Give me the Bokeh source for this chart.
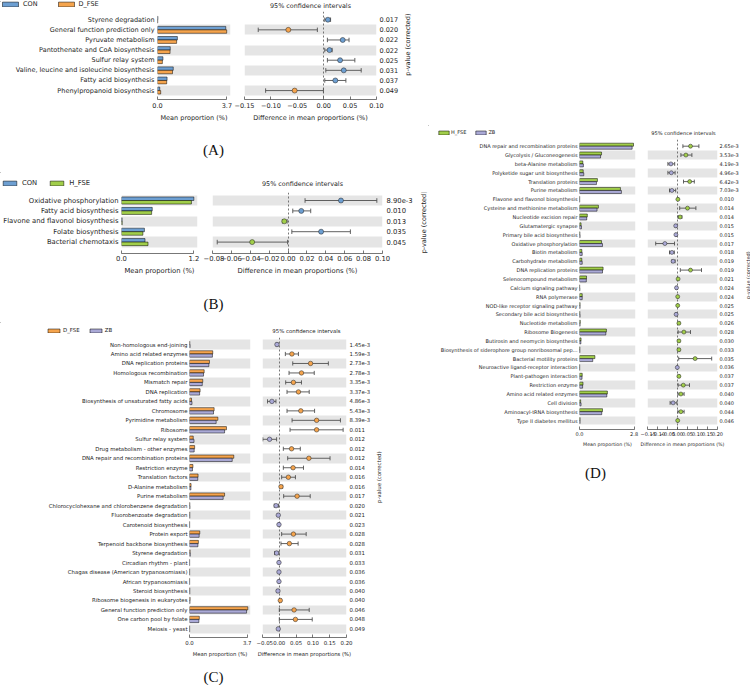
import numpy as np
from bokeh.plotting import figure
from bokeh.models import (ColumnDataSource, Range1d, FixedTicker, LinearAxis,
                          Legend, LegendItem, Spacer, PrintfTickFormatter)
from bokeh.core.properties import value
from bokeh.transform import dodge
from bokeh.layouts import row, column
from bokeh.embed import file_html
from bokeh.resources import INLINE

# ---------------- data: panel A (CON vs D_FSE) ----------------
cats_A = ["Styrene degradation", "General function prediction only", "Pyruvate metabolism",
          "Pantothenate and CoA biosynthesis", "Sulfur relay system",
          "Valine, leucine and isoleucine biosynthesis", "Fatty acid biosynthesis",
          "Phenylpropanoid biosynthesis"]
con_A = [0.02, 3.64, 1.06, 0.68, 0.29, 0.84, 0.51, 0.12]
dfse_A = [0.01, 3.69, 1.02, 0.67, 0.26, 0.80, 0.49, 0.17]
diff_A = [0.008, -0.067, 0.036, 0.011, 0.031, 0.038, 0.022, -0.055]
lo_A = [0.002, -0.124, 0.007, 0.002, 0.007, 0.004, 0.002, -0.110]
hi_A = [0.013, -0.012, 0.048, 0.016, 0.059, 0.071, 0.042, -0.0005]
pval_A = ["0.017", "0.020", "0.022", "0.022", "0.025", "0.031", "0.037", "0.049"]
ticks_ci_A = [-0.15, -0.10, -0.05, 0.00, 0.05, 0.10]
bar_max_A = 3.7

# ---------------- data: panel B (CON vs H_FSE) ----------------
cats_B = ["Oxidative phosphorylation", "Fatty acid biosynthesis",
          "Flavone and flavonol biosynthesis", "Folate biosynthesis", "Bacterial chemotaxis"]
con_B = [1.20, 0.51, 0.01, 0.38, 0.39]
hfse_B = [1.16, 0.50, 0.012, 0.355, 0.44]
diff_B = [0.056, 0.014, -0.004, 0.035, -0.038]
lo_B = [0.018, 0.005, -0.006, 0.004, -0.075]
hi_B = [0.094, 0.024, -0.001, 0.066, -0.0005]
pval_B = ["8.90e-3", "0.010", "0.013", "0.035", "0.045"]
ticks_ci_B = [-0.08, -0.06, -0.04, -0.02, 0.00, 0.02, 0.04, 0.06, 0.08, 0.10]
bar_max_B = 1.2

# ---------------- data: panel C (D_FSE vs ZB) ----------------
cats_C = ["Non-homologous end-joining", "Amino acid related enzymes", "DNA replication proteins",
          "Homologous recombination", "Mismatch repair", "DNA replication",
          "Biosynthesis of unsaturated fatty acids", "Chromosome", "Pyrimidine metabolism",
          "Ribosome", "Sulfur relay system", "Drug metabolism - other enzymes",
          "DNA repair and recombination proteins", "Restriction enzyme", "Translation factors",
          "D-Alanine metabolism", "Purine metabolism",
          "Chlorocyclohexane and chlorobenzene degradation", "Fluorobenzoate degradation",
          "Carotenoid biosynthesis", "Protein export", "Terpenoid backbone biosynthesis",
          "Styrene degradation", "Circadian rhythm - plant",
          "Chagas disease (American trypanosomiasis)", "African trypanosomiasis",
          "Steroid biosynthesis", "Ribosome biogenesis in eukaryotes",
          "General function prediction only", "One carbon pool by folate", "Meiosis - yeast"]
dfse_C = [0.02, 1.49, 1.28, 0.94, 0.85, 0.68, 0.13, 1.58, 1.82, 2.37, 0.24, 0.33, 2.84, 0.22,
          0.55, 0.10, 2.25, 0.02, 0.02, 0.01, 0.66, 0.57, 0.04, 0.01, 0.01, 0.01, 0.02, 0.04,
          3.74, 0.63, 0.01]
zb_C = [0.04, 1.47, 1.24, 0.90, 0.82, 0.65, 0.16, 1.54, 1.71, 2.25, 0.29, 0.30, 2.74, 0.19,
        0.53, 0.09, 2.16, 0.03, 0.02, 0.01, 0.62, 0.54, 0.05, 0.01, 0.01, 0.01, 0.02, 0.03,
        3.66, 0.60, 0.01]
diff_C = [-0.007, 0.0375, 0.093, 0.066, 0.042, 0.057, -0.022, 0.064, 0.111, 0.111, -0.029,
          0.0365, 0.088, 0.041, 0.027, 0.005, 0.053, -0.0096, -0.003, -0.001, 0.042, 0.030,
          -0.008, -0.001, -0.001, -0.001, -0.004, 0.003, 0.044, 0.048, -0.003]
lo_C = [-0.009, 0.018, 0.040, 0.029, 0.019, 0.023, -0.035, 0.023, 0.038, 0.032, -0.049, 0.012,
        0.025, 0.012, 0.007, 0.002, 0.013, -0.015, -0.005, -0.002, 0.007, 0.005, -0.014,
        -0.002, -0.002, -0.002, -0.007, 0.001, 0.000, 0.000, -0.005]
hi_C = [-0.004, 0.057, 0.146, 0.104, 0.066, 0.089, -0.010, 0.105, 0.182, 0.190, -0.008, 0.0625,
        0.151, 0.072, 0.048, 0.010, 0.092, -0.002, -0.001, -0.0003, 0.080, 0.056, -0.001,
        -0.0003, -0.0003, -0.0003, -0.001, 0.005, 0.089, 0.098, -0.001]
pval_C = ["1.45e-3", "1.59e-3", "2.73e-3", "2.78e-3", "3.35e-3", "3.37e-3", "4.86e-3",
          "5.43e-3", "8.39e-3", "0.011", "0.012", "0.012", "0.012", "0.014", "0.016", "0.016",
          "0.017", "0.020", "0.021", "0.023", "0.028", "0.028", "0.031", "0.033", "0.036",
          "0.036", "0.040", "0.040", "0.046", "0.048", "0.049"]
ticks_ci_C = [-0.05, 0.00, 0.05, 0.10, 0.15, 0.20]
bar_max_C = 3.7

# ---------------- data: panel D (H_FSE vs ZB) ----------------
cats_D = ["DNA repair and recombination proteins", "Glycolysis / Gluconeogenesis",
          "beta-Alanine metabolism", "Polyketide sugar unit biosynthesis", "Translation proteins",
          "Purine metabolism", "Flavone and flavonol biosynthesis",
          "Cysteine and methionine metabolism", "Nucleotide excision repair",
          "Glutamatergic synapse", "Primary bile acid biosynthesis", "Oxidative phosphorylation",
          "Biotin metabolism", "Carbohydrate metabolism", "DNA replication proteins",
          "Selenocompound metabolism", "Calcium signaling pathway", "RNA polymerase",
          "NOD-like receptor signaling pathway", "Secondary bile acid biosynthesis",
          "Nucleotide metabolism", "Ribosome Biogenesis", "Butirosin and neomycin biosynthesis",
          "Biosynthesis of siderophore group nonribosomal pep...", "Bacterial motility proteins",
          "Neuroactive ligand-receptor interaction", "Plant-pathogen interaction",
          "Restriction enzyme", "Amino acid related enzymes", "Cell division",
          "Aminoacyl-tRNA biosynthesis", "Type II diabetes mellitus"]
hfse_D = [2.77, 1.13, 0.17, 0.19, 0.92, 2.10, 0.01, 0.97, 0.40, 0.08, 0.02, 1.13, 0.12, 0.12,
          1.21, 0.36, 0.01, 0.14, 0.03, 0.02, 0.04, 1.38, 0.08, 0.02, 0.79, 0.01, 0.14, 0.18,
          1.43, 0.06, 1.18, 0.03]
zb_D = [2.70, 1.08, 0.20, 0.22, 0.87, 2.15, 0.01, 0.90, 0.37, 0.10, 0.03, 1.18, 0.14, 0.14,
        1.18, 0.35, 0.02, 0.14, 0.03, 0.03, 0.03, 1.35, 0.07, 0.02, 0.68, 0.01, 0.13, 0.16,
        1.40, 0.08, 1.14, 0.03]
diff_D = [0.065, 0.042, -0.033, -0.031, 0.061, -0.028, 0.002, 0.050, 0.013, -0.009, -0.008,
          -0.063, -0.028, -0.022, 0.065, 0.003, -0.005, 0.001, 0.001, -0.007, 0.007, 0.032,
          0.007, 0.007, 0.088, -0.001, 0.007, 0.029, 0.017, -0.022, 0.017, 0.001]
lo_D = [0.027, 0.017, -0.048, -0.048, 0.030, -0.040, 0.001, 0.011, 0.003, -0.011, -0.010,
        -0.109, -0.040, -0.028, 0.014, 0.001, -0.007, 0.000, 0.000, -0.009, 0.003, 0.003, 0.003,
        0.003, 0.006, -0.002, 0.003, 0.003, 0.002, -0.037, 0.002, 0.000]
hi_D = [0.107, 0.072, -0.014, -0.012, 0.084, -0.009, 0.003, 0.092, 0.022, -0.006, -0.005,
        -0.015, -0.016, -0.012, 0.120, 0.005, -0.003, 0.002, 0.002, -0.005, 0.011, 0.065, 0.011,
        0.011, 0.171, -0.0005, 0.011, 0.060, 0.033, -0.003, 0.033, 0.002]
pval_D = ["2.65e-3", "3.53e-3", "4.19e-3", "4.96e-3", "6.42e-3", "7.03e-3", "0.010", "0.014",
          "0.014", "0.015", "0.015", "0.017", "0.018", "0.019", "0.019", "0.021", "0.024",
          "0.024", "0.025", "0.025", "0.026", "0.028", "0.030", "0.033", "0.035", "0.036",
          "0.037", "0.037", "0.040", "0.040", "0.044", "0.046"]
ticks_ci_D = [-0.15, -0.10, -0.05, 0.00, 0.05, 0.10, 0.15, 0.20]
bar_max_D = 2.8

# ---------------- style ----------------
FONT = "DejaVu Sans"
SERIF = "Liberation Serif"
TXT = "#1e1e1e"
AXC = "#3c3c3c"
ERR = "#505050"
BAND = "#e5e5e5"
COLORS = {"CON": "#6d9fd2", "D_FSE": "#f5a44d", "H_FSE": "#a1ce4a", "ZB": "#aaa9d6"}
TITLE = "95% confidence intervals"
PLABEL = "p-value (corrected)"

# ---------------- layout (page pixels) ----------------
LA = dict(x0=0, colw=428, head_top=0, frame_top=11, frame_bottom=100, bb=24, foot_bottom=172,
          first_row=19.3, spacing=10.24,
          bar_left=157, bar_frame=73, bar_right=4, bar_tick_px=69.4,
          ci_left=10, ci_frame=133, ci_right=24,
          fs=6.5, title_fs=6.4, axl_fs=6.5, leg_x=0, leg_cy=4, gw=20, gh=6, leg_so=3, leg_sp=18,
          title_x=310, title_y=4, pl_x=407, pl_dy=-2, pl_fs=6.5, letter="(A)", letter_x=213,
          letter_y=149, lbl_so=3, pv_so=3, tick_so=3, lab_so=3, ps=5.0, cap=0.22)
LB = dict(x0=0, colw=428, head_top=172, frame_top=192, frame_bottom=253, bb=24, foot_bottom=322,
          first_row=200, spacing=10.4,
          bar_left=120, bar_frame=77, bar_right=6, bar_tick_px=73.3,
          ci_left=9, ci_frame=172, ci_right=31,
          fs=6.8, title_fs=6.4, axl_fs=6.8, leg_x=1, leg_cy=183, gw=17, gh=6, leg_so=4, leg_sp=11,
          title_x=302, title_y=183, pl_x=423, pl_dy=11, pl_fs=6.5, letter="(B)", letter_x=213,
          letter_y=303, lbl_so=3, pv_so=4, tick_so=2, lab_so=3, ps=5.0, cap=0.22)
LC = dict(x0=0, colw=428, head_top=322, frame_top=337, frame_bottom=637, bb=22, foot_bottom=685,
          first_row=344, spacing=9.48,
          bar_left=189, bar_frame=61, bar_right=6, bar_tick_px=57.7,
          ci_left=6, ci_frame=87, ci_right=24,
          fs=5.4, title_fs=5.4, axl_fs=5.3, leg_x=46, leg_cy=330, gw=15, gh=5, leg_so=2, leg_sp=8,
          title_x=306, title_y=330, pl_x=378, pl_dy=0, pl_fs=5.4, letter="(C)", letter_x=213,
          letter_y=676, lbl_so=2, pv_so=3, tick_so=3, lab_so=3, ps=4.5, cap=0.22)
LD = dict(x0=428, colw=322, head_top=125, frame_top=139, frame_bottom=429, bb=20, foot_bottom=485,
          first_row=145.7, spacing=8.85,
          bar_left=151, bar_frame=56, bar_right=5, bar_tick_px=54.6,
          ci_left=7, ci_frame=72, ci_right=22,
          fs=5.0, title_fs=5.1, axl_fs=4.75, leg_x=437, leg_cy=132.3, gw=13, gh=5, leg_so=1,
          leg_sp=8, title_x=683, title_y=132, pl_x=747, pl_dy=0, pl_fs=5.0, letter="(D)",
          letter_x=595, letter_y=472, lbl_so=2, pv_so=2, tick_so=2, lab_so=3, ps=4.0, cap=0.22)


def blank(width, height):
    f = figure(width=width, height=height, x_range=Range1d(0, width), y_range=Range1d(height, 0),
               x_axis_location=None, y_axis_location=None, output_backend="svg",
               toolbar_location=None, min_border=0, outline_line_color=None,
               background_fill_color="white", border_fill_color="white")
    f.grid.visible = False
    return f


def style_axis(ax, fs, afs):
    ax.axis_line_color = AXC
    ax.axis_line_width = 0.7
    ax.major_tick_line_color = AXC
    ax.major_tick_line_width = 0.7
    ax.minor_tick_line_color = None
    ax.major_tick_in = 3
    ax.major_tick_out = 0
    ax.major_label_text_font = FONT
    ax.major_label_text_font_size = f"{fs}px"
    ax.major_label_text_color = TXT
    ax.axis_label_text_font = FONT
    ax.axis_label_text_font_size = f"{afs}px"
    ax.axis_label_text_font_style = "normal"
    ax.axis_label_text_color = TXT


def build(cats, g1, v1, g2, v2, diff, lo, hi, pvals, bar_max, ci_ticks, L):
    n = len(cats)
    ypos = list(range(n - 1, -1, -1))
    s = L["spacing"]
    fh = L["frame_bottom"] - L["frame_top"]
    y_top = (n - 1) + (L["first_row"] - L["frame_top"]) / s
    y_bot = y_top - fh / s
    yr = Range1d(y_bot, y_top)
    H = fh + L["bb"]
    fs, afs = L["fs"], L["axl_fs"]
    c1, c2 = COLORS[g1], COLORS[g2]
    x0, W = L["x0"], L["colw"]

    src = ColumnDataSource(dict(y=ypos, v1=v1, v2=v2, diff=diff, lo=lo, hi=hi,
                                pc=[c1 if d >= 0 else c2 for d in diff]))
    shade = ColumnDataSource(dict(y0=[y - 0.5 for y in ypos if y % 2 == 0],
                                  y1=[y + 0.5 for y in ypos if y % 2 == 0]))

    # ---- header: legend + CI title ----
    hh_fig = L["frame_top"] - L["head_top"]
    head = blank(W, hh_fig)
    # legend proxies: one zero-length bar each, placed outside the visible range
    proxy = ColumnDataSource(dict(y=[-1000.0], v=[0.0]))
    d1 = head.hbar(y="y", right="v", left=0, height=0.3, source=proxy, fill_color=c1,
                   line_color="black", line_width=0.5)
    d2 = head.hbar(y="y", right="v", left=0, height=0.3, source=proxy, fill_color=c2,
                   line_color="black", line_width=0.5)
    th = max(L["gh"], 1.164 * fs)
    leg = Legend(items=[LegendItem(label=g1, renderers=[d1]), LegendItem(label=g2, renderers=[d2])],
                 orientation="horizontal",
                 location=(L["leg_x"] - x0, hh_fig - (L["leg_cy"] - L["head_top"]) - th / 2),
                 padding=0, margin=0, spacing=L["leg_sp"], glyph_width=L["gw"],
                 glyph_height=L["gh"], label_standoff=L["leg_so"], label_width=0,
                 label_height=L["gh"], label_text_font=FONT, label_text_font_size=f"{fs}px",
                 label_text_color=TXT, border_line_color=None, background_fill_alpha=0)
    head.add_layout(leg)
    head.text(x=[L["title_x"] - x0], y=[L["title_y"] - L["head_top"]], text=[TITLE],
              text_align="center", text_baseline="middle", text_font=value(FONT),
              text_font_size=value(f"{L['title_fs']}px"), text_color=TXT)

    # ---- mean proportion bars ----
    bw = L["bar_left"] + L["bar_frame"] + L["bar_right"]
    xe = bar_max * L["bar_frame"] / L["bar_tick_px"]
    fb = figure(width=bw, height=H, x_range=Range1d(0, xe), y_range=yr, title=None,
                output_backend="svg", toolbar_location=None,
                min_border_left=L["bar_left"], min_border_right=L["bar_right"],
                min_border_top=0, min_border_bottom=L["bb"],
                outline_line_color=None, background_fill_color="white",
                border_fill_color="white")
    fb.xgrid.visible = False
    fb.ygrid.visible = False
    fb.hstrip(y0="y0", y1="y1", source=shade, fill_color=BAND, line_color=None)
    fb.hbar(y=dodge("y", 0.17), left=0, right="v1", height=0.34, source=src,
            fill_color=c1, line_color="black", line_width=0.5)
    fb.hbar(y=dodge("y", -0.17), left=0, right="v2", height=0.34, source=src,
            fill_color=c2, line_color="black", line_width=0.5)

    ya = fb.yaxis[0]
    style_axis(ya, fs, afs)
    ya.ticker = FixedTicker(ticks=ypos)
    ya.major_label_overrides = {y: c for y, c in zip(ypos, cats)}
    ya.axis_line_color = None
    ya.major_tick_line_color = None
    ya.major_tick_in = 0
    ya.major_label_standoff = L["lbl_so"]

    xa = fb.xaxis[0]
    style_axis(xa, fs, afs)
    xa.ticker = FixedTicker(ticks=[0, bar_max])
    xa.bounds = (0, bar_max)
    xa.formatter = PrintfTickFormatter(format="%.1f")
    xa.major_label_standoff = L["tick_so"]
    xa.axis_label = "Mean proportion (%)"
    xa.axis_label_standoff = L["lab_so"]

    # ---- difference / confidence intervals ----
    cw = L["ci_left"] + L["ci_frame"] + L["ci_right"]
    fc = figure(width=cw, height=H, x_range=Range1d(ci_ticks[0], ci_ticks[-1]), y_range=yr,
                title=None, y_axis_location=None, output_backend="svg", toolbar_location=None,
                min_border_left=L["ci_left"], min_border_right=L["ci_right"],
                min_border_top=0, min_border_bottom=L["bb"],
                outline_line_color=None, background_fill_color="white",
                border_fill_color="white")
    fc.xgrid.visible = False
    fc.ygrid.visible = False
    fc.hstrip(y0="y0", y1="y1", source=shade, fill_color=BAND, line_color=None)
    fc.vspan(x=[0], line_color="#555555", line_dash="2 2", line_width=0.8)
    cap = L["cap"]
    fc.segment(x0="lo", x1="hi", y0="y", y1="y", source=src, line_color=ERR, line_width=0.9)
    fc.segment(x0="lo", x1="lo", y0=dodge("y", -cap), y1=dodge("y", cap), source=src,
               line_color=ERR, line_width=0.9)
    fc.segment(x0="hi", x1="hi", y0=dodge("y", -cap), y1=dodge("y", cap), source=src,
               line_color=ERR, line_width=0.9)
    fc.scatter(x="diff", y="y", size=L["ps"], source=src, fill_color="pc",
               line_color="#222222", line_width=0.5)

    ca = fc.xaxis[0]
    style_axis(ca, fs, afs)
    ca.ticker = FixedTicker(ticks=ci_ticks)
    ca.major_label_overrides = {t: f"{t:.2f}".replace("-", "\u2212") for t in ci_ticks}
    ca.major_label_standoff = L["tick_so"]
    ca.axis_label = "Difference in mean proportions (%)"
    ca.axis_label_standoff = L["lab_so"]

    ra = LinearAxis(ticker=FixedTicker(ticks=ypos),
                    major_label_overrides={y: p for y, p in zip(ypos, pvals)})
    style_axis(ra, fs, afs)
    ra.axis_line_color = None
    ra.major_tick_line_color = None
    ra.major_tick_in = 0
    ra.major_label_standoff = L["pv_so"]
    fc.add_layout(ra, "right")

    # ---- rotated p-value label ----
    pw = W - bw - cw
    pv = blank(pw, H)
    pv.text(x=[L["pl_x"] - x0 - bw - cw], y=[fh / 2 + L["pl_dy"]], text=[PLABEL],
            angle=np.pi / 2, text_align="center", text_baseline="middle",
            text_font=value(FONT), text_font_size=value(f"{L['pl_fs']}px"), text_color=TXT)

    # ---- footer: panel letter ----
    foot_top = L["frame_bottom"] + L["bb"]
    foot = blank(W, L["foot_bottom"] - foot_top)
    foot.text(x=[L["letter_x"] - x0], y=[L["letter_y"] - foot_top], text=[L["letter"]],
              text_align="center", text_baseline="middle", text_font=value(SERIF),
              text_font_size=value("15px"), text_color="#111111")

    return [head, row(fb, fc, pv), foot]


pA = build(cats_A, "CON", con_A, "D_FSE", dfse_A, diff_A, lo_A, hi_A, pval_A, bar_max_A, ticks_ci_A, LA)
pB = build(cats_B, "CON", con_B, "H_FSE", hfse_B, diff_B, lo_B, hi_B, pval_B, bar_max_B, ticks_ci_B, LB)
pC = build(cats_C, "D_FSE", dfse_C, "ZB", zb_C, diff_C, lo_C, hi_C, pval_C, bar_max_C, ticks_ci_C, LC)
pD = build(cats_D, "H_FSE", hfse_D, "ZB", zb_D, diff_D, lo_D, hi_D, pval_D, bar_max_D, ticks_ci_D, LD)

left = column(*pA, *pB, *pC)
right = column(Spacer(width=LD["colw"], height=LD["head_top"]), *pD)
p = row(left, right)

open("out.html", "w").write(file_html(p, INLINE))
